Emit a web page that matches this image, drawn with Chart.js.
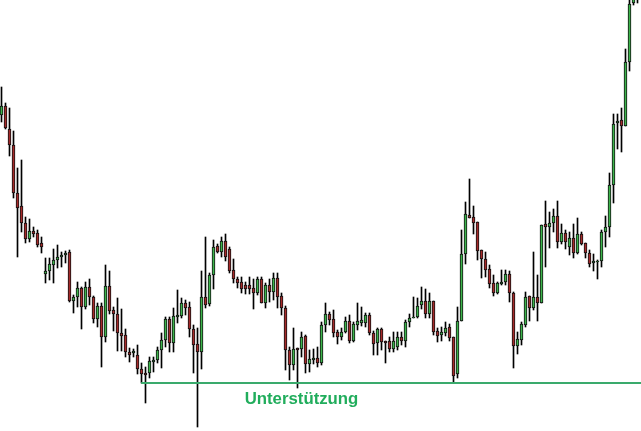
<!DOCTYPE html>
<html>
<head>
<meta charset="utf-8">
<script src="https://cdn.jsdelivr.net/npm/chart.js@4/dist/chart.umd.min.js"></script>
<style>
  html, body { margin: 0; padding: 0; background: #fff; }
  #wrap { width: 641px; height: 431px; }
</style>
</head>
<body>
<div id="wrap"><canvas id="chart" width="641" height="431"></canvas></div>
<script>
// candle values (arbitrary price units)
const opens = [316,325,302,286,238,225,208,192,200,198,188,157,160,166,171,174,176,179,130,134,
  143,124,144,134,112,125,94,145,121,117,98,96,79,78,76,62,58,58,69,71,
  81,91,112,88,114,115,128,124,102,87,79,134,127,156,185,179,190,182,161,152,
  149,146,146,143,138,152,128,146,139,153,135,123,81,66,83,82,95,67,71,73,
  68,106,117,112,99,94,99,110,90,106,108,108,116,98,88,102,90,90,82,84,
  94,90,109,113,114,126,130,117,130,100,96,98,104,94,57,110,177,216,214,209,
  181,172,162,148,138,147,149,157,138,85,91,106,135,123,134,128,207,204,208,215,
  189,198,184,193,178,197,188,178,168,169,170,199,204,246,308,311,305,369,428,440];
const highs = [344,328,323,300,263,271,214,212,204,201,194,173,173,182,186,179,180,181,136,149,
  144,149,152,135,128,128,166,160,124,133,122,102,83,82,86,68,64,74,74,84,
  98,114,114,123,141,133,131,129,106,103,160,194,158,191,187,194,197,184,172,154,
  154,149,154,152,154,154,148,152,158,158,138,125,84,103,83,99,96,81,82,84,
  109,128,119,121,101,103,114,116,109,128,124,118,118,100,103,103,90,94,99,99,
  99,111,117,134,133,144,142,138,130,103,104,109,107,94,124,201,229,252,225,209,
  181,179,166,156,149,161,161,160,139,99,109,139,135,179,156,206,230,219,222,230,
  207,201,199,207,213,199,188,181,177,171,201,215,258,317,317,323,382,440,449,480];
const lows = [309,302,275,233,174,199,188,189,194,184,178,148,151,148,163,164,168,129,118,124,
  102,122,126,108,104,64,89,117,100,80,80,74,69,74,57,48,28,53,59,68,
  63,84,79,79,108,113,116,94,58,4,62,123,125,142,178,174,170,158,148,143,
  138,137,137,122,136,128,123,129,131,123,116,61,51,61,43,74,58,59,67,64,
  66,99,106,94,87,91,98,88,89,101,105,104,96,76,76,81,68,79,79,81,
  86,84,104,113,113,122,113,113,96,89,90,95,90,49,53,110,167,213,197,171,
  153,154,143,135,137,146,146,129,63,77,86,104,110,121,110,128,164,183,199,183,
  187,182,176,173,177,186,173,164,160,152,164,184,194,228,282,279,305,360,426,428];
const closes = [325,303,286,238,223,208,192,200,197,186,184,160,167,171,174,176,178,130,134,143,
  124,144,134,112,125,94,145,120,117,98,95,79,76,80,62,57,56,70,71,81,
  91,112,88,115,116,128,123,102,86,79,134,126,156,184,179,190,174,160,152,148,
  142,142,142,138,152,128,146,139,153,134,123,81,66,82,81,94,67,72,73,68,
  106,117,111,98,94,99,110,90,107,110,111,116,98,87,102,89,88,82,90,94,
  90,109,113,114,125,130,117,130,99,95,99,103,93,55,110,177,217,213,208,180,
  172,161,147,138,148,149,157,138,85,92,107,134,123,134,128,206,204,208,215,189,
  198,189,193,178,197,187,178,167,170,170,199,204,246,307,310,305,369,427,443,470];

// support line and its label
const supportLevel = 48;
const supportStart = 35;
const supportLabel = "Unterstützung";
const labelIndex = 75;
const labelPrice = 27;

document.addEventListener("DOMContentLoaded", () => {
    const ctx = document.getElementById("chart").getContext("2d");

    const up = "#3cb44b";
    const down = "#a52a2a";
    const lineGreen = "#3aaa6c";
    const textGreen = "#21ad5c";

    const bodies = opens.map((o, i) => ({ x: i, y: [o, closes[i]] }));
    const wicks = highs.map((h, i) => ({ x: i, y: [lows[i], h] }));
    const bodyColors = opens.map((o, i) => (closes[i] >= o ? up : down));

    const labelPlugin = {
        id: "supportLabel",
        afterDatasetsDraw(chart) {
            const { ctx, scales } = chart;
            ctx.save();
            ctx.font = "bold 16.8px 'Liberation Sans', Arial, sans-serif";
            ctx.fillStyle = textGreen;
            ctx.textAlign = "center";
            ctx.textBaseline = "alphabetic";
            ctx.fillText(supportLabel, scales.x.getPixelForValue(labelIndex), scales.y.getPixelForValue(labelPrice));
            ctx.restore();
        },
    };

    new Chart(ctx, {
        type: "bar",
        data: {
            datasets: [
                {
                    type: "line",
                    data: [{ x: supportStart - 0.1, y: supportLevel }, { x: opens.length + 1, y: supportLevel }],
                    borderColor: lineGreen,
                    borderWidth: 2,
                    pointRadius: 0,
                    clip: false,
                    order: 0,
                },
                {
                    data: bodies,
                    backgroundColor: bodyColors,
                    borderColor: "#111",
                    borderWidth: 1,
                    borderSkipped: false,
                    barThickness: 3,
                    grouped: false,
                    order: 1,
                },
                {
                    data: wicks,
                    backgroundColor: "#000",
                    borderWidth: 0,
                    barThickness: 1,
                    grouped: false,
                    order: 2,
                },
            ],
        },
        options: {
            responsive: false,
            animation: false,
            layout: { padding: 0 },
            plugins: { legend: { display: false }, tooltip: { enabled: false } },
            scales: {
                x: { type: "linear", min: -0.375, max: 159.875, offset: false, display: false },
                y: { min: 0, max: 431, display: false },
            },
        },
        plugins: [labelPlugin],
    });
});
</script>
</body>
</html>
